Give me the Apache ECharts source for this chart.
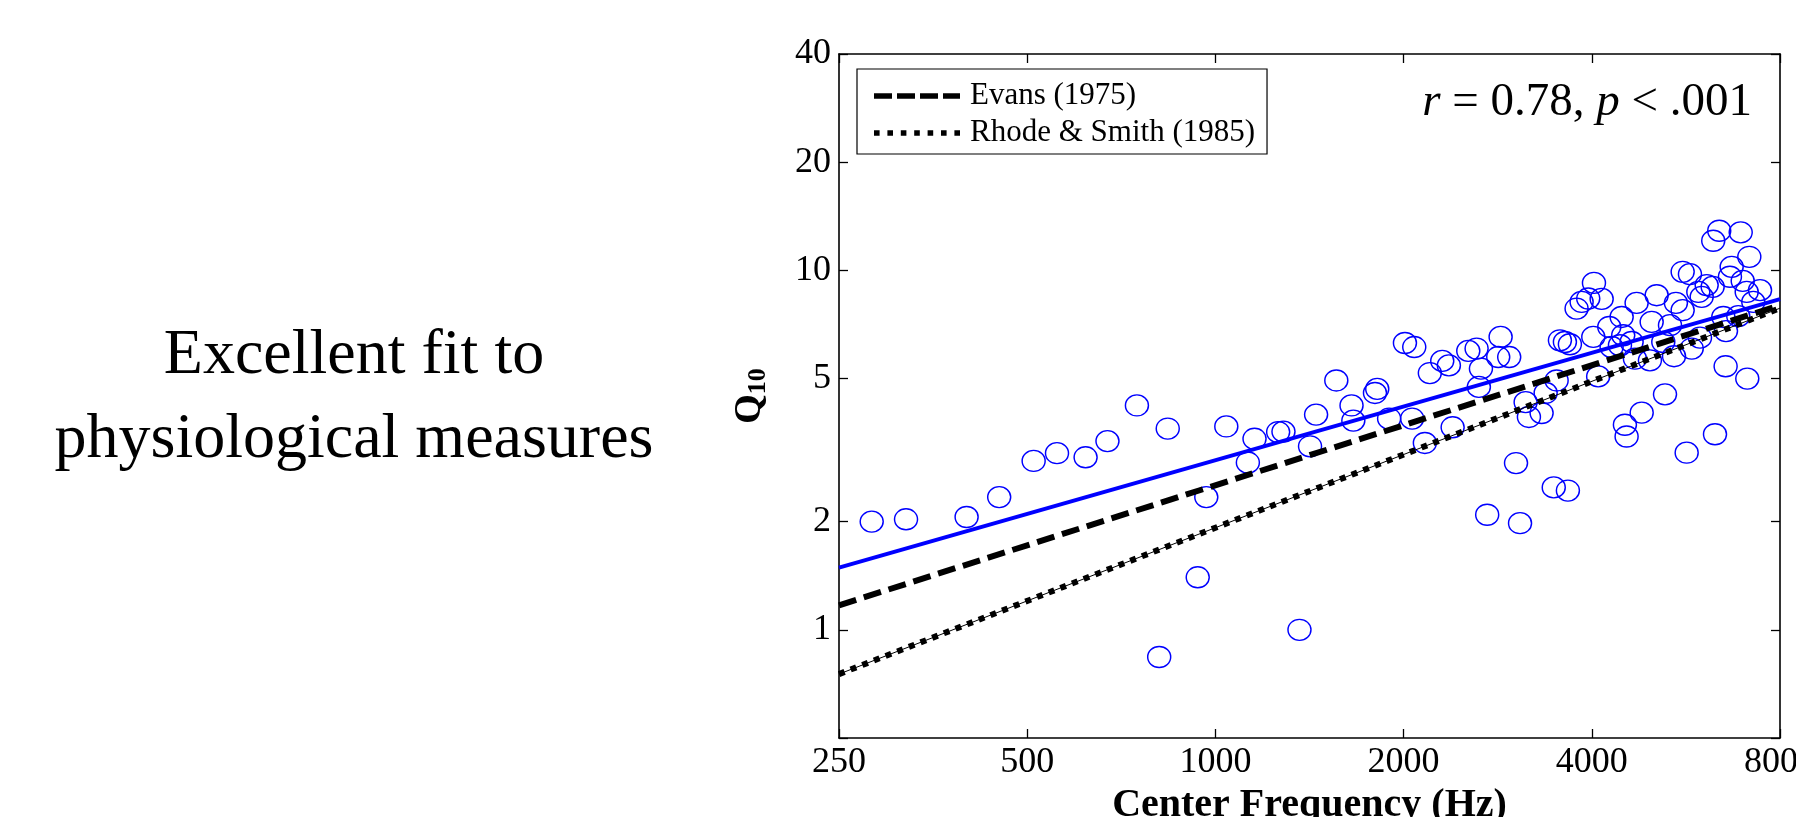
<!DOCTYPE html>
<html>
<head>
<meta charset="utf-8">
<script src="https://cdn.jsdelivr.net/npm/echarts@6/dist/echarts.min.js"></script>
<style>
  html, body { margin: 0; padding: 0; background: #fff; }
  #chart { width: 1796px; height: 817px; }
</style>
</head>
<body>
<div id="chart"></div>
<script>
// Axis ranges and tick values (Hz and Q10)
const freqRange = [250, 8000];
const q10Range = [0.5, 40];
const freqTicks = [250, 500, 1000, 2000, 4000, 8000];
const q10Ticks = [0.5, 1, 2, 5, 10, 20, 40];
const q10TickLabels = [1, 2, 5, 10, 20, 40];

// Measured filters: center frequency (Hz) and Q10
const centerFreq = [
  282, 320, 400, 451, 512, 558, 620, 672, 749, 839,
  813, 937, 967, 1041, 1127, 1155, 1260, 1285, 1363, 1417,
  1449, 1561, 1651, 1662, 1800, 1815, 1896, 2010, 2064, 2080,
  2163, 2203, 2306, 2363, 2396, 2538, 2617, 2639, 2659, 2721,
  2834, 2859, 2951, 3026, 3071, 3135, 3173, 3325, 3375, 3477,
  3514, 3557, 3623, 3663, 3690, 3782, 3853, 3948, 4022, 4032,
  4095, 4148, 4266, 4303, 4437, 4465, 4491, 4519, 4547, 4632,
  4689, 4718, 4807, 4955, 4987, 5080, 5205, 5238, 5335, 5415,
  5453, 5590, 5590, 5673, 5742, 5780, 5922, 5958, 5996, 6107,
  6243, 6256, 6297, 6396, 6493, 6548, 6557, 6653, 6696, 6861,
  6922, 6974, 7077, 7092, 7145, 7251, 7433
];
const q10 = [
  2.00, 2.03, 2.06, 2.34, 2.95, 3.10, 3.02, 3.35, 4.21, 3.63,
  0.84, 1.40, 2.34, 3.68, 2.92, 3.40, 3.55, 3.56, 1.00, 3.24,
  3.97, 4.94, 4.21, 3.82, 4.56, 4.68, 3.87, 6.28, 3.87, 6.12,
  3.31, 5.18, 5.60, 5.44, 3.66, 5.97, 6.06, 4.74, 5.33, 2.09,
  5.74, 6.53, 5.74, 2.91, 1.98, 4.30, 3.91, 4.01, 4.56, 2.49,
  4.94, 6.39, 6.32, 2.44, 6.23, 7.83, 8.17, 8.35, 6.53, 9.23,
  5.07, 8.33, 6.96, 6.12, 6.19, 7.42, 6.60, 3.72, 3.45, 6.32,
  5.68, 8.12, 4.02, 5.62, 7.19, 8.53, 6.32, 4.52, 7.04, 5.77,
  8.12, 7.75, 9.91, 3.11, 9.76, 6.06, 8.71, 6.50, 8.44, 9.10,
  9.00, 12.09, 3.50, 12.89, 7.42, 5.41, 6.78, 9.60, 10.23, 7.46,
  12.76, 9.35, 8.71, 5.00, 10.91, 8.17, 8.81
];

// Straight fits on log-log axes, given at both ends of the frequency range
const fitEnds = [250, 8000];
const fitThisStudy = [1.49, 8.32];
const fitEvans = [1.17, 8.0];
const fitRhodeSmith = [0.753, 7.85];

const seriesNames = ['Evans (1975)', 'Rhode & Smith (1985)'];

const SERIF = "'Liberation Serif', 'Times New Roman', serif";
const L = v => Math.log2(v);
const fitData = vals => fitEnds.map((f, i) => [L(f), L(vals[i])]);

const chart = echarts.init(document.getElementById('chart'), null, { renderer: 'canvas' });

const frame = { show: true, onZero: false, lineStyle: { color: '#000', width: 1.6 } };
const tickStyle = { color: '#000', width: 1.3 };

// Legend sample shapes: four dashes and seven square dots
const dashIcon = 'path://M0,0H18V5.5H0Z M23,0H41V5.5H23Z M46,0H64V5.5H46Z M69,0H86V5.5H69Z';
const dotIcon = 'path://' + [0, 1, 2, 3, 4, 5, 6].map(i => {
  const x = (i * 13.4).toFixed(1), x2 = (i * 13.4 + 5.6).toFixed(1);
  return `M${x},0H${x2}V5.5H${x}Z`;
}).join(' ');

const option = {
  animation: false,
  backgroundColor: '#fff',
  textStyle: { fontFamily: SERIF, color: '#000' },
  grid: {
    left: 839, top: 54, width: 941, height: 684,
    containLabel: false,
    outerBoundsMode: 'none'
  },
  legend: {
    left: 857, top: 69,
    orient: 'vertical',
    backgroundColor: '#fff',
    borderColor: '#000',
    borderWidth: 1.2,
    borderRadius: 0,
    padding: [11, 12, 5, 17],
    itemWidth: 86,
    itemHeight: 5.5,
    itemGap: 5,
    textStyle: { fontFamily: SERIF, fontSize: 31, color: '#000', lineHeight: 32, padding: [0, 0, 0, 5] },
    data: [
      { name: seriesNames[0], icon: dashIcon },
      { name: seriesNames[1], icon: dotIcon }
    ],
    selectedMode: false
  },
  xAxis: [
    {
      type: 'value', position: 'bottom',
      min: L(freqRange[0]), max: L(freqRange[1]),
      axisLine: frame,
      axisTick: { show: true, inside: true, length: 9, lineStyle: tickStyle, customValues: freqTicks.map(L) },
      axisLabel: {
        customValues: freqTicks.map(L),
        formatter: v => String(Math.round(Math.pow(2, v))),
        margin: 7, fontSize: 36, fontFamily: SERIF, color: '#000'
      },
      splitLine: { show: false },
      name: 'Center Frequency (Hz)',
      nameLocation: 'middle',
      nameGap: 43,
      nameTextStyle: { fontSize: 40, fontWeight: 'bold', fontFamily: SERIF, color: '#000' }
    },
    {
      type: 'value', position: 'top',
      min: L(freqRange[0]), max: L(freqRange[1]),
      axisLine: frame,
      axisTick: { show: true, inside: true, length: 9, lineStyle: tickStyle, customValues: freqTicks.map(L) },
      axisLabel: { show: false },
      splitLine: { show: false }
    }
  ],
  yAxis: [
    {
      type: 'value', position: 'left',
      min: L(q10Range[0]), max: L(q10Range[1]),
      axisLine: frame,
      axisTick: { show: true, inside: true, length: 9, lineStyle: tickStyle, customValues: q10Ticks.map(L) },
      axisLabel: {
        customValues: q10TickLabels.map(L),
        formatter: v => String(Math.round(Math.pow(2, v))),
        margin: 8, fontSize: 36, fontFamily: SERIF, color: '#000'
      },
      splitLine: { show: false },
      name: '{q|Q}{s|10}',
      nameLocation: 'middle',
      nameGap: 68,
      nameTextStyle: {
        rich: {
          q: { fontSize: 38, fontWeight: 'bold', fontFamily: SERIF, color: '#000', verticalAlign: 'top', lineHeight: 40 },
          s: { fontSize: 26, fontWeight: 'bold', fontFamily: SERIF, color: '#000', verticalAlign: 'bottom', lineHeight: 26, padding: [18, 0, 0, 0] }
        }
      }
    },
    {
      type: 'value', position: 'right',
      min: L(q10Range[0]), max: L(q10Range[1]),
      axisLine: frame,
      axisTick: { show: true, inside: true, length: 9, lineStyle: tickStyle, customValues: q10Ticks.map(L) },
      axisLabel: { show: false },
      splitLine: { show: false }
    }
  ],
  series: [
    {
      name: 'Q10',
      type: 'scatter',
      xAxisIndex: 0, yAxisIndex: 0,
      symbol: 'circle',
      symbolSize: [23, 21],
      itemStyle: { color: 'rgba(0,0,0,0)', borderColor: '#0000ff', borderWidth: 1.4, opacity: 1 },
      data: centerFreq.map((f, i) => [L(f), L(q10[i])]),
      z: 2
    },
    {
      name: 'Fit',
      type: 'line',
      xAxisIndex: 0, yAxisIndex: 0,
      symbol: 'none',
      color: '#0000ff',
      lineStyle: { color: '#0000ff', width: 4 },
      data: fitData(fitThisStudy),
      z: 3
    },
    {
      name: seriesNames[0],
      type: 'line',
      xAxisIndex: 0, yAxisIndex: 0,
      symbol: 'none',
      color: '#000',
      lineStyle: { color: '#000', width: 6, type: [18, 8], cap: 'butt' },
      data: fitData(fitEvans),
      z: 4
    },
    {
      name: seriesNames[1],
      type: 'line',
      xAxisIndex: 0, yAxisIndex: 0,
      symbol: 'none',
      color: '#000',
      lineStyle: { color: '#000', width: 1, type: 'solid' },
      data: fitData(fitRhodeSmith),
      z: 4
    },
    {
      name: seriesNames[1],
      type: 'line',
      xAxisIndex: 0, yAxisIndex: 0,
      symbol: 'none',
      color: '#000',
      lineStyle: { color: '#000', width: 6, type: [6, 6.5], cap: 'butt' },
      data: fitData(fitRhodeSmith),
      z: 5
    }
  ],
  graphic: [
    {
      type: 'text',
      x: 1752, y: 103,
      style: {
        text: '{i|r}{n| = 0.78, }{i|p}{n| < .001}',
        align: 'right',
        verticalAlign: 'middle',
        rich: {
          i: { fontSize: 47, fontStyle: 'italic', fontFamily: SERIF, fill: '#000' },
          n: { fontSize: 47, fontFamily: SERIF, fill: '#000' }
        }
      }
    },
    {
      type: 'text',
      x: 354, y: 398,
      style: {
        text: 'Excellent fit to\nphysiological measures',
        align: 'center',
        verticalAlign: 'middle',
        fontSize: 64,
        lineHeight: 84,
        fontFamily: SERIF,
        fill: '#000'
      }
    }
  ]
};

chart.setOption(option);
</script>
</body>
</html>
